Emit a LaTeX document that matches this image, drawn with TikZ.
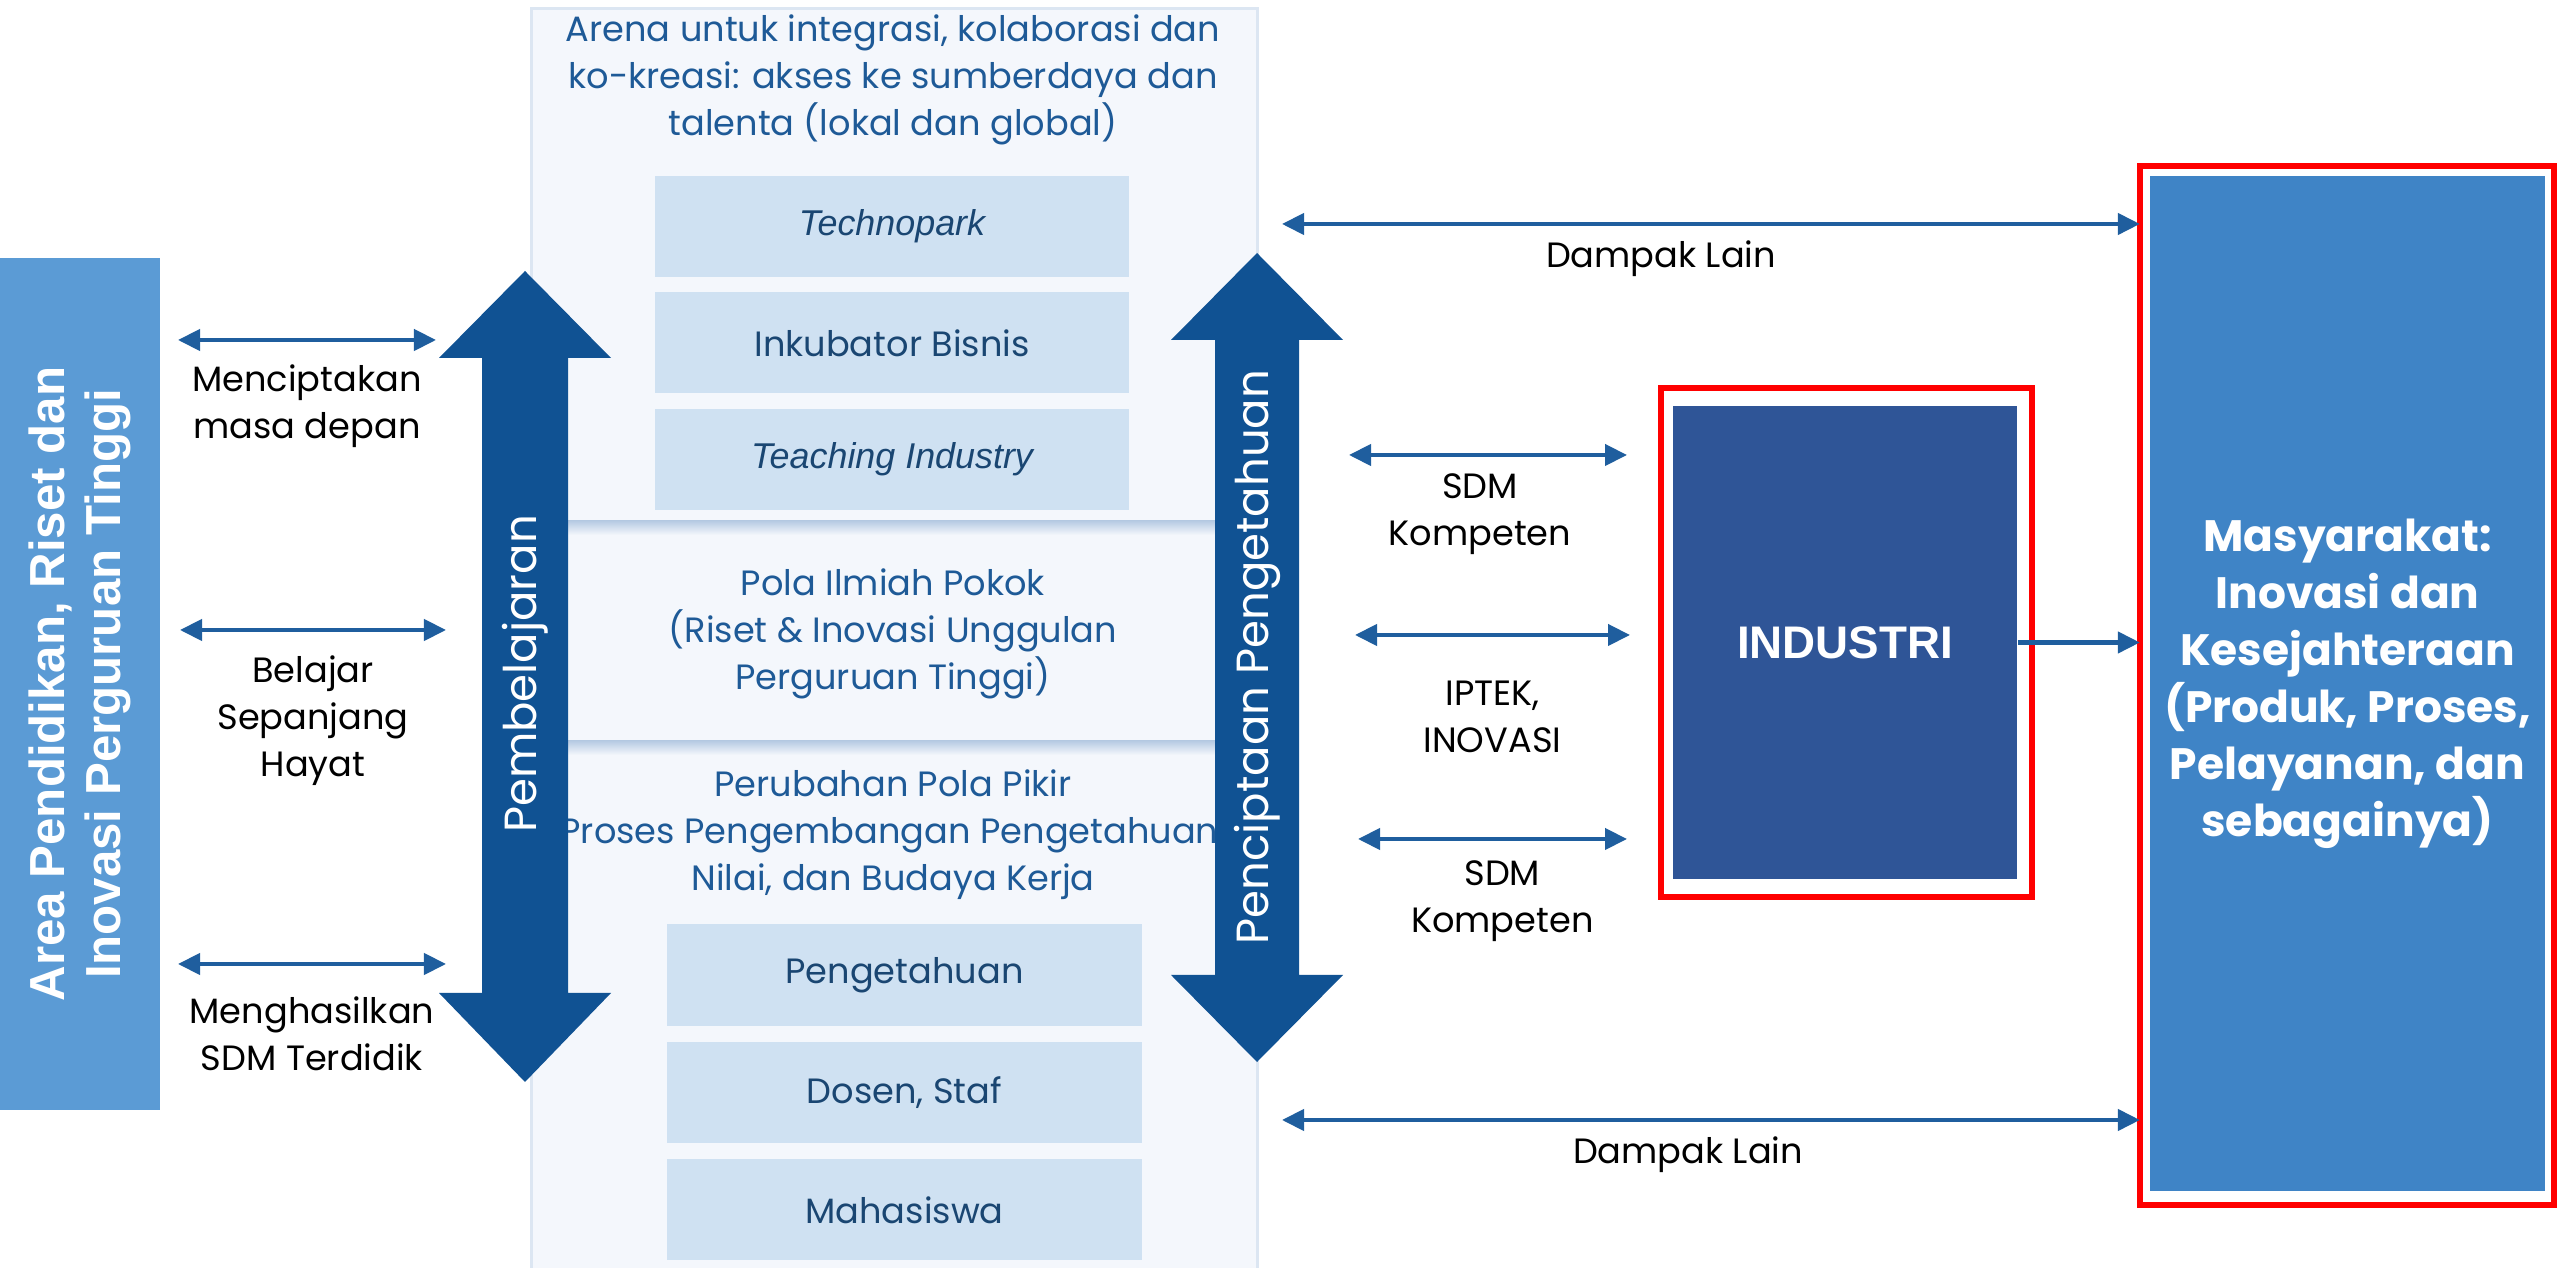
\documentclass[tikz,border=0pt]{standalone}
\usepackage{fontspec}
\setmainfont{Poppins}
\newfontfamily\arialfont{Liberation Sans}
\usetikzlibrary{positioning,arrows.meta,shapes.arrows}
\definecolor{barblue}{HTML}{5B9BD5}
\definecolor{arrowblue}{HTML}{105293}
\definecolor{linkblue}{HTML}{1F5E9E}
\definecolor{panelbg}{HTML}{F4F7FC}
\definecolor{panelline}{HTML}{DCE6F2}
\definecolor{divline}{HTML}{B7CBE3}
\definecolor{subfill}{HTML}{CFE1F2}
\definecolor{subtext}{HTML}{1A4672}
\definecolor{titleblue}{HTML}{1E5A97}
\definecolor{indblue}{HTML}{2F5597}
\definecolor{masyblue}{HTML}{3F84C6}
\tikzset{>={Triangle[width=0.21cm,length=0.22cm]}, % heads of the thin links
link/.style={<->, line width=1.2pt, draw=linkblue}, % thin two-way links
lbl/.style={align=center, text=black, font=\fontsize{10}{13.4}\selectfont}, % texts under the links
panel/.style={fill=panelbg, draw=panelline, line width=0.8pt, minimum width=7.25cm}, % the three parts of the arena
paneltitle/.style={align=center, text=titleblue, font=\fontsize{10}{13.4}\selectfont},
subbox/.style={fill=subfill, minimum width=4.74cm, minimum height=1.01cm, text=subtext, font=\fontsize{10}{13.4}\selectfont},
subit/.style={subbox, font=\arialfont\itshape\fontsize{10.2}{13.4}\selectfont}, % italic names
bigarrow/.style={fill=arrowblue}, % the two big arrows
arrowtext/.style={rotate=90, text=white, font=\fontsize{12.8}{15}\selectfont},
redframe/.style={draw=red, line width=1.7pt, outer sep=0pt}, % red outlines
}
\begin{document}
\begin{tikzpicture}[x=0.01cm, y=-0.01cm]
\useasboundingbox (0,0) rectangle (2560,1268);

% left area
\node[fill=barblue, rotate=90, minimum width=8.52cm, minimum height=1.6cm, text=white, align=center,
  font=\arialfont\bfseries\fontsize{14}{16}\selectfont] (area) at (80,684) {Area Pendidikan, Riset dan\\Inovasi Perguruan Tinggi};

% arena panel
\node[panel, minimum height=5.15cm] (top) at (894.5,266.5) {};
\node[panel, minimum height=2.2cm] (mid) at (894.5,634) {};
\node[panel, minimum height=5.28cm] (bot) at (894.5,1008) {};
\shade[top color=divline, bottom color=panelbg] (533,521) rectangle (1256,535);
\shade[top color=divline, bottom color=panelbg] (533,741) rectangle (1256,755);

\node[paneltitle] (arena) at (893,80) {Arena untuk integrasi, kolaborasi dan\\ko-kreasi: akses ke sumberdaya dan\\talenta (lokal dan global)};
\node[subit] (techno) at (892,226.5) {Technopark};
\node[subbox, below=0.14cm of techno] (inkub) {Inkubator Bisnis};
\node[subit, below=0.14cm of inkub] (teach) {Teaching Industry};

\node[paneltitle] (pola) at (893,634) {Pola Ilmiah Pokok\\(Riset \& Inovasi Unggulan\\Perguruan Tinggi)};

\node[paneltitle] (pikir) at (893,835) {Perubahan Pola Pikir\\Proses Pengembangan Pengetahuan,\\Nilai, dan Budaya Kerja};
\node[subbox] (penget) at (904.5,975) {Pengetahuan};
\node[subbox, below=0.15cm of penget] (dosen) {Dosen, Staf};
\node[subbox, below=0.15cm of dosen] (mhs) {Mahasiswa};

% big arrows
\fill[bigarrow] (525,271) -- (611,358) -- (568,358) -- (568,993) -- (611,993) -- (525,1082)
  -- (439,993) -- (482,993) -- (482,358) -- (439,358) -- cycle;
\node[arrowtext] (pemb) at (525,674) {Pembelajaran};
\fill[bigarrow] (1257,253) -- (1343,340) -- (1299,340) -- (1299,975) -- (1343,975) -- (1257,1062)
  -- (1171,975) -- (1215,975) -- (1215,340) -- (1171,340) -- cycle;
\node[arrowtext] (cipta) at (1257,657) {Penciptaan Pengetahuan};

% industri and masyarakat
\node[redframe, minimum width=3.71cm, minimum height=5.09cm] (indOut) at (1846.5,642.5) {};
\node[fill=indblue, minimum width=3.44cm, minimum height=4.73cm, text=white,
  font=\arialfont\bfseries\fontsize{13}{16}\selectfont] (industri) at (1845,642.5) {INDUSTRI};
\node[redframe, minimum width=4.14cm, minimum height=10.39cm] (masyOut) at (2347,685.5) {};
\node[fill=masyblue, minimum width=3.95cm, minimum height=10.15cm, text=white, align=center,
  font=\bfseries\fontsize{12.5}{16.2}\selectfont] (masy) at (2347.5,683.5)
  {Masyarakat:\\Inovasi dan\\Kesejahteraan\\(Produk, Proses,\\Pelayanan, dan\\sebagainya)};

% ends of the links
\coordinate (m1) at (178,340); \coordinate (m2) at (436,340);
\coordinate (b1) at (180,630); \coordinate (b2) at (446,630);
\coordinate (h1) at (178,964); \coordinate (h2) at (446,964);
\coordinate (d1) at (1282,224); \coordinate (e1) at (1282,1120);
\coordinate (s1) at (1349,455); \coordinate (s2) at (1627,455);
\coordinate (i1) at (1355,635); \coordinate (i2) at (1630,635);
\coordinate (t1) at (1358,839); \coordinate (t2) at (1627,839);

\draw
(m1) edge[link] node[lbl, below=3.1pt]{Menciptakan\\masa depan} (m2)
(b1) edge[link] node[lbl, below=3.4pt]{Belajar\\Sepanjang\\Hayat} (b2)
(h1) edge[link] node[lbl, below=5.4pt]{Menghasilkan\\SDM Terdidik} (h2)
(d1) edge[link] node[lbl, below=0.9pt, xshift=-14.2pt]{Dampak Lain} (d1 -| masyOut.west)
(e1) edge[link] node[lbl, below=0.9pt, xshift=-6.5pt]{Dampak Lain} (e1 -| masyOut.west)
(s1) edge[link] node[lbl, below=1.4pt, xshift=-2.3pt]{SDM\\Kompeten} (s2)
(i1) edge[link] node[lbl, below=9.1pt]{IPTEK,\\INOVASI} (i2)
(t1) edge[link] node[lbl, below=2.3pt, xshift=2.8pt]{SDM\\Kompeten} (t2);

\draw[->, line width=1.2pt, draw=linkblue] (industri.east) -- (industri.east -| masyOut.west);

\end{tikzpicture}
\end{document}
